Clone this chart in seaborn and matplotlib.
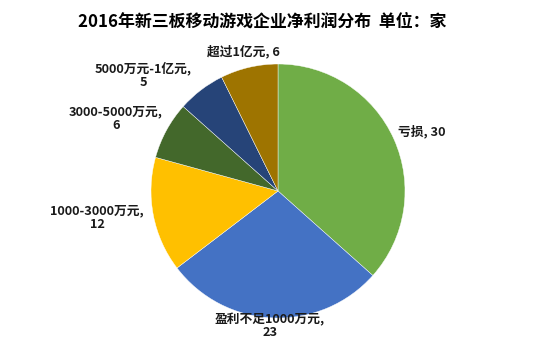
import matplotlib
matplotlib.use("Agg")
import matplotlib.pyplot as plt
import seaborn as sns

categories = ["亏损", "盈利不足1000万元", "1000-3000万元", "3000-5000万元", "5000万元-1亿元", "超过1亿元"]
values = [30, 23, 12, 6, 5, 6]
colors = ["#70AD47", "#4472C4", "#FFC000", "#43682B", "#264478", "#9E7400"]
title = "2016年新三板移动游戏企业净利润分布  单位：家"

sns.set_theme(style="white")
plt.rcParams['font.family'] = ['Noto Sans CJK SC', 'DejaVu Sans']

W, H = 554, 346
fig = plt.figure(figsize=(W / 100, H / 100), dpi=100)
ax = fig.add_axes([0, 0, 1, 1])

cx, cy, r = 278, H - 191, 127
wedges, _ = ax.pie(values, colors=colors, startangle=90, counterclock=False,
                   center=(cx, cy), radius=r, frame=True,
                   wedgeprops=dict(edgecolor="white", linewidth=0.3))
ax.set_xlim(0, W)
ax.set_ylim(0, H)
ax.set_aspect("equal")
ax.axis("off")

# label layout (pixel positions from top-left)
label_pos = [(422, 132, False), (270, 326, True), (97, 218, True),
             (116, 119, True), (143, 75, True), (243, 51, False)]
for cat, val, (px, py, two) in zip(categories, values, label_pos):
    txt = f"{cat},\n{val}" if two else f"{cat}, {val}"
    ax.text(px, H - py, txt, ha="center", va="center", fontsize=9.2,
            fontweight="bold", color="#1a1a1a", linespacing=1.05)

fig.text(262 / W, 1 - 22 / H, title, ha="center", va="center", fontsize=12.2,
         fontweight="heavy", color="#000000")

fig.savefig("out.png", dpi=100)
